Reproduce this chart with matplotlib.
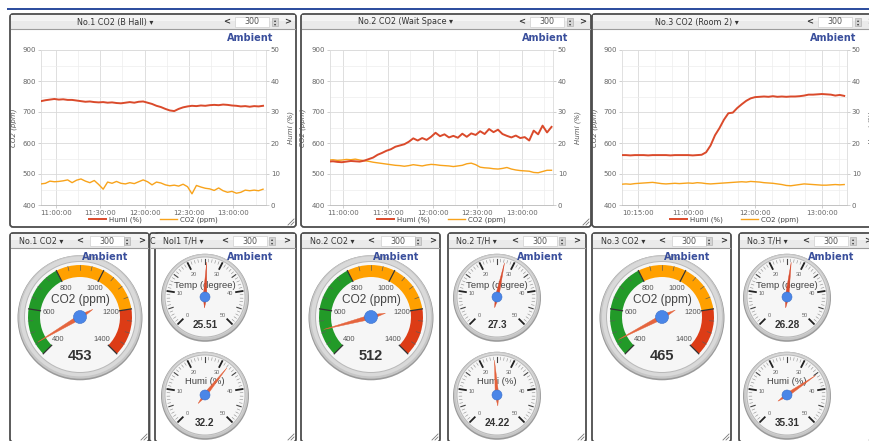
import numpy as np
import matplotlib
matplotlib.use('Agg')
import matplotlib.pyplot as plt
from matplotlib.patches import Rectangle, FancyBboxPatch, Circle, Wedge, Polygon
from matplotlib.ticker import FuncFormatter

W, H = 869, 441

# ---- trend charts, time in minutes after midnight ----
t12 = np.arange(650, 803, 3)   # sample clock of chart 1 and 2 (10:50 .. 13:20)
t3 = np.arange(600, 801, 4)    # sample clock of chart 3 (10:00 .. 13:20)

humi1 = [33.5, 33.8, 34.0, 34.2, 34.0, 34.1, 33.9, 33.9, 33.7, 33.5,
         33.3, 33.4, 33.2, 33.1, 33.2, 33.0, 33.1, 32.9, 32.8, 33.0,
         33.2, 33.0, 33.3, 33.4, 33.0, 32.6, 32.0, 31.6, 31.0, 30.5,
         30.3, 31.0, 31.5, 31.8, 32.0, 31.9, 32.1, 32.0, 32.2, 32.3,
         32.2, 32.4, 32.3, 32.1, 32.0, 31.8, 31.9, 31.7, 31.9, 31.8, 32.0]
co2_1 = [468, 470, 477, 475, 476, 478, 481, 472, 480, 484,
         477, 472, 479, 466, 451, 474, 470, 476, 470, 468,
         472, 469, 475, 481, 475, 465, 474, 471, 465, 462,
         464, 461, 467, 459, 436, 463, 458, 454, 452, 447,
         455, 446, 441, 444, 438, 441, 448, 446, 448, 446, 451]

humi2 = [14.0, 14.1, 13.9, 13.8, 14.0, 14.2, 14.1, 14.0, 14.3, 14.8,
         15.3, 16.2, 16.8, 17.5, 18.0, 18.8, 19.2, 19.6, 20.4, 21.5,
         20.8, 21.6, 21.0, 22.0, 23.3, 22.2, 22.8, 21.8, 22.3, 21.7,
         23.0, 22.0, 23.1, 22.6, 23.8, 22.9, 24.5, 23.5, 24.3, 22.9,
         22.3, 21.8, 22.4, 21.6, 21.9, 20.8, 24.0, 22.8, 25.6, 23.4, 25.2]
co2_2 = [545, 546, 544, 545, 547, 546, 548, 545, 543, 541,
         538, 536, 534, 532, 530, 528, 527, 525, 527, 530,
         528, 526, 529, 531, 530, 528, 527, 526, 524, 526,
         528, 533, 535, 530, 522, 520, 519, 517, 516, 518,
         521, 516, 513, 511, 510, 509, 505, 504, 508, 512, 512]

humi3 = [16.1, 16.1, 16.0, 16.1, 16.1, 16.1, 16.0, 16.1, 16.1, 16.1,
         16.1, 16.0, 16.1, 16.1, 16.1, 16.1, 16.0, 16.1, 16.2, 17.0,
         19.2, 22.5, 24.8, 27.5, 29.6, 29.8, 31.3, 32.5, 33.6, 34.4,
         34.8, 34.9, 35.0, 34.9, 35.1, 34.9, 35.0, 34.9, 35.0, 35.0,
         35.1, 35.3, 35.6, 35.6, 35.7, 35.8, 35.7, 35.6, 35.3, 35.5, 35.2]
co2_3 = [467, 468, 467, 469, 470, 471, 472, 473, 471, 469,
         468, 469, 470, 469, 470, 471, 470, 472, 471, 469,
         468, 469, 470, 471, 472, 473, 474, 475, 474, 476,
         475, 474, 472, 471, 470, 468, 466, 463, 462, 464,
         466, 468, 467, 466, 465, 464, 464, 465, 466, 465, 466]

top_titles = ['No.1 CO2 (B Hall) \u25be', 'No.2 CO2 (Wait Space \u25be', 'No.3 CO2 (Room 2) \u25be']
top_xticks = [[660, 690, 720, 750, 780], [660, 690, 720, 750, 780], [615, 660, 720, 780]]
top_xlims = [(650, 802), (651, 801), (600.5, 802.5)]

# ---- gauges ----
co2_now = [453, 512, 465]
temp_now = [25.51, 27.3, 26.28]
humi_now = [32.2, 24.22, 35.31]
co2_titles = ['No.1 CO2 \u25be', 'No.2 CO2 \u25be', 'No.3 CO2 \u25be']
th_titles = ['Nol1 T/H \u25be', 'No.2 T/H \u25be', 'No.3 T/H \u25be']
co2_bands = [(400, 800, '#229a28'), (800, 1200, '#ffa000'), (1200, 1400, '#dc3c16')]
co2_labels = [400, 600, 800, 1000, 1200, 1400]
th_labels = [0, 10, 20, 30, 40, 50]

GAUGE_FONT = ['Liberation Sans', 'DejaVu Sans']
BLUE = '#3a4f9c'

fig = plt.figure(figsize=(W / 100, H / 100), dpi=100)
bg = fig.add_axes([0, 0, 1, 1])
bg.axis('off')


def fax(x0, y0, x1, y1):
    return fig.add_axes([x0 / W, (H - y1) / H, (x1 - x0) / W, (y1 - y0) / H])


def ftext(x, y, s, **kw):
    fig.text(x / W, 1 - y / H, s, **kw)


def panel(x0, y0, x1, y1, title, tcx, ctrl=None):
    bg.add_patch(FancyBboxPatch((x0, y0), x1 - x0, y1 - y0,
                                boxstyle='round,pad=0,rounding_size=3',
                                fc='white', ec='#4d4d4d', lw=1.3, zorder=2))
    bg.add_patch(Rectangle((x0 + 1, y0 + 1), x1 - x0 - 2, 14, fc='#eaeaea', ec='none', zorder=3))
    bg.add_patch(Rectangle((x0 + 1, y0 + 1), x1 - x0 - 2, 6, fc='#f4f4f4', ec='none', zorder=3))
    bg.plot([x0 + 1, x1 - 1], [y0 + 15, y0 + 15], color='#9c9c9c', lw=0.8, zorder=3)
    yc = y0 + 8
    bg.text(tcx, yc, title, ha='center', va='center', fontsize=5.8, color='#333333', zorder=4)
    if ctrl is None:
        return
    lt, box, sp, gt = ctrl
    bg.text(x1 - lt, yc, '<', ha='center', va='center', fontsize=6, fontweight='bold', color='#333333', zorder=4)
    bg.add_patch(Rectangle((x1 - box - 17, y0 + 3), 34, 10, fc='white', ec='#d0d0d0', lw=0.5, zorder=3))
    bg.text(x1 - box, yc, '300', ha='center', va='center', fontsize=5.8, color='#555555', zorder=4)
    bg.add_patch(Rectangle((x1 - sp - 3, y0 + 4), 6, 8, fc='#d4d4d4', ec='#a8a8a8', lw=0.4, zorder=4))
    bg.text(x1 - sp, yc - 1.6, '\u25b4', ha='center', va='center', fontsize=3, color='#333333', zorder=5)
    bg.text(x1 - sp, yc + 1.8, '\u25be', ha='center', va='center', fontsize=3, color='#333333', zorder=5)
    bg.text(x1 - gt, yc, '>', ha='center', va='center', fontsize=6, fontweight='bold', color='#333333', zorder=4)
    for d in (3, 6):
        bg.plot([x1 - 2, x1 - 2 - d], [y1 - 2 - d, y1 - 2], color='#777777', lw=0.6, zorder=4)


# page bar
bg.add_patch(Rectangle((7, 7.5), W, 2.6, fc='#2f4f9f', ec='none', zorder=1))

# ---- top row: trend charts ----
top_panels = [(10, 296), (301, 591), (592, 879)]
plot_x = [(41, 266), (330, 553), (622, 847)]
series = [(t12, co2_1, humi1), (t12, co2_2, humi2), (t3, co2_3, humi3)]
hhmm = FuncFormatter(lambda v, p: '%02d:%02d:00' % (int(round(v)) // 60, int(round(v)) % 60))

for i in range(3):
    px0, px1 = top_panels[i]
    panel(px0, 14, px1, 227, top_titles[i], px0 + 105, (69, 44, 21, 8))
    ftext(px1 - 23, 38, 'Ambient', ha='right', va='center', fontsize=7, fontweight='bold', color=BLUE)

    x0, x1 = plot_x[i]
    t, co2, humi = series[i]
    ax = fax(x0, 50, x1, 205)
    ax.set_facecolor('none')
    lc, = ax.plot(t, co2, color='#f8a31b', lw=1.0, zorder=3)
    ax.set_xlim(*top_xlims[i])
    ax.set_ylim(400, 900)
    ax.set_yticks(range(400, 901, 100))
    ax.set_yticks(range(450, 900, 100), minor=True)
    lo, hi = top_xlims[i]
    ax.set_xticks(top_xticks[i])
    ax.set_xticks([m for m in range(600, 810, 15) if lo < m < hi], minor=True)
    ax.xaxis.set_major_formatter(hhmm)
    ax.grid(which='major', color='#d9d9d9', lw=0.6)
    ax.grid(which='minor', color='#ededed', lw=0.5)
    ax.set_axisbelow(True)
    ax.tick_params(which='major', labelsize=5, labelcolor='#666666', color='#c8c8c8',
                   length=2.2, width=0.6, pad=1.2)
    ax.tick_params(which='minor', length=0)
    for s in ax.spines.values():
        s.set_color('#dcdcdc')
        s.set_linewidth(0.6)
    ax.spines['bottom'].set_color('#b8b8b8')
    ax.set_ylabel('CO2 (ppm)', fontsize=5, style='italic', color='#555555')
    ax.yaxis.set_label_coords(-24 / (x1 - x0), 0.5)

    ax2 = ax.twinx()
    lh, = ax2.plot(t, humi, color='#da4a2b', lw=1.4, zorder=3)
    ax2.set_ylim(0, 50)
    ax2.set_yticks(range(0, 51, 10))
    ax2.tick_params(labelsize=5, labelcolor='#666666', color='#c8c8c8', length=2.2, width=0.6, pad=1.2)
    for s in ax2.spines.values():
        s.set_visible(False)
    ax2.set_ylabel('Humi (%)', fontsize=5, style='italic', color='#555555', rotation=90)
    ax2.yaxis.set_label_coords(1 + 21 / (x1 - x0), 0.5)
    ax2.legend([lh, lc], ['Humi (%)', 'CO2 (ppm)'], loc='center', bbox_to_anchor=(0.5, -0.097),
               ncol=2, frameon=False, fontsize=5, handlelength=2.4, columnspacing=2.6,
               handletextpad=0.5, labelcolor='#444444')


# ---- bottom row: gauges ----
def pol(r, a):
    return r * np.cos(np.radians(a)), r * np.sin(np.radians(a))


def gauge_axes(cx, cy, R):
    gx = fax(cx - R - 1, cy - R - 1, cx + R + 1, cy + R + 1)
    gx.set_xlim(-R - 1, R + 1)
    gx.set_ylim(-R - 1, R + 1)
    gx.axis('off')
    return gx


def bezel(gx, R, face):
    gx.add_patch(Circle((0, -0.8), R, fc='#9a9a9a', ec='none'))
    gx.add_patch(Circle((0, 0), R - 0.8, fc='#c6c6c6', ec='none'))
    gx.add_patch(Circle((0, 0.6), R - 2.5, fc='#d9d9d9', ec='none'))
    gx.add_patch(Circle((0, 0), face + 1.0, fc='#b9b9b9', ec='none'))
    gx.add_patch(Circle((0, 0), face, fc='#f6f6f6', ec='none'))


def needle(gx, ang, L, tail, w, color):
    pts = [pol(L, ang), pol(w, ang + 90), pol(-tail, ang), pol(w, ang - 90)]
    gx.add_patch(Polygon(pts, closed=True, fc=color, ec=color, lw=0.3, zorder=5))


def co2_gauge(cx, cy, val):
    R = 62.5
    gx = gauge_axes(cx, cy, R)
    bezel(gx, R, 55)
    ang = lambda v: 225 - (v - 400) * 0.27
    for lo, hi, c in co2_bands:
        gx.add_patch(Wedge((0, 0), 52, ang(hi), ang(lo), width=12, fc=c, ec='none', zorder=2))
    for v in range(400, 1401, 50):
        a = ang(v)
        if (v - 400) % 200 == 0:
            gx.plot(*zip(pol(40, a), pol(52, a)), color='#333333', lw=0.9, zorder=3)
        else:
            gx.plot(*zip(pol(47.5, a), pol(52, a)), color='#5a5a5a', lw=0.45, zorder=3)
    for v in co2_labels:
        x, y = pol(31.5, ang(v))
        gx.text(x, y, str(v), ha='center', va='center', fontsize=5.5, color='#555555',
                family=GAUGE_FONT, zorder=4)
    gx.text(0, 17, 'CO2 (ppm)', ha='center', va='center', fontsize=8.6, color='#444444',
            family=GAUGE_FONT, zorder=4)
    needle(gx, ang(val), 49, 15, 2.3, '#e5653e')
    gx.add_patch(Circle((0, 0), 6.5, fc='#4a86e8', ec='#3b6fc9', lw=0.4, zorder=6))
    gx.text(0, -39, str(val), ha='center', va='center', fontsize=10.5, fontweight='bold',
            color='#333333', family=GAUGE_FONT, zorder=4)


def th_gauge(cx, cy, val, title, ty, color):
    R = 44
    gx = gauge_axes(cx, cy, R)
    bezel(gx, R, 39.5)
    ang = lambda v: 225 - v * 5.4
    for v in range(0, 51):
        a = ang(v)
        if v % 10 == 0:
            r0, lw, c = 31.5, 1.3, '#222222'
        elif v % 5 == 0:
            r0, lw, c = 33.5, 0.8, '#444444'
        else:
            r0, lw, c = 35.2, 0.4, '#8a8a8a'
        gx.plot(*zip(pol(r0, a), pol(38, a)), color=c, lw=lw, zorder=3)
    for v in th_labels:
        x, y = pol(25.5, ang(v))
        gx.text(x, y, str(v), ha='center', va='center', fontsize=4, color='#666666',
                family=GAUGE_FONT, zorder=4)
    gx.text(0, ty, title, ha='center', va='center', fontsize=6.8, color='#444444',
            family=GAUGE_FONT, zorder=4)
    needle(gx, ang(val), 35, 11, 1.8, color)
    gx.add_patch(Circle((0, 0), 5, fc='#4a86e8', ec='#3b6fc9', lw=0.4, zorder=6))
    gx.text(0, -28, str(val), ha='center', va='center', fontsize=7.2, fontweight='bold',
            color='#333333', family=GAUGE_FONT, zorder=4)


co2_panels = [(10, 149), (301, 440), (592, 731)]
th_panels = [(155, 296), (448, 586), (739, 877)]
co2_cx = [80, 371, 662]
th_cx = [205, 497, 787]

# partly hidden panel behind the first T/H gauge
panel(149.5, 233, 166, 442, 'C', 152.3)

for i in range(3):
    a0, a1 = co2_panels[i]
    panel(a0, 233, a1, 442, co2_titles[i], a0 + 31, (69, 42, 22, 7))
    b0, b1 = th_panels[i]
    panel(b0, 233, b1, 442, th_titles[i], b0 + 28, (71, 46, 24, 9))

    co2_gauge(co2_cx[i], 317, co2_now[i])
    th_gauge(th_cx[i], 297, temp_now[i], 'Temp (degree)', 12, '#d84a2c')
    th_gauge(th_cx[i], 395, humi_now[i], 'Humi (%)', 14, '#e4613b')

    ftext(a1 - 21, 257, 'Ambient', ha='right', va='center', fontsize=7, fontweight='bold', color=BLUE)
    ftext(b1 - 23, 257, 'Ambient', ha='right', va='center', fontsize=7, fontweight='bold', color=BLUE)

bg.set_xlim(0, W)
bg.set_ylim(H, 0)

fig.savefig('out.png', dpi=100)
